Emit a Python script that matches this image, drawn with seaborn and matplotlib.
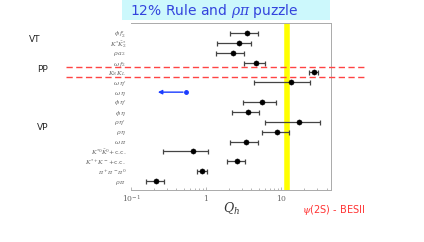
import numpy as np
import pandas as pd
import matplotlib
matplotlib.use("Agg")
import matplotlib.pyplot as plt
import seaborn as sns
from matplotlib.lines import Line2D
from matplotlib.patches import Rectangle

sns.set_theme(style="white")
plt.rcParams['font.family'] = ['DejaVu Sans']
plt.rcParams['mathtext.fontset'] = 'dejavuserif'

# channel labels, top to bottom
channels = [r"$\phi\, f_2^{\prime}$", r"$K^{*}\bar{K}_2^{*}$", r"$\rho\, a_2$", r"$\omega\, f_2$",
            r"$K_S\, K_L$", r"$\omega\, \eta^{\prime}$", r"$\omega\, \eta$", r"$\phi\, \eta^{\prime}$",
            r"$\phi\, \eta$", r"$\rho\, \eta^{\prime}$", r"$\rho\, \eta$", r"$\omega\, \pi$",
            r"$K^{*0}\bar{K}^0$+c.c.", r"$K^{*+}K^-$+c.c.", r"$\pi^+\pi^-\pi^0$", r"$\rho\, \pi$"]
# Q_h central values and error bar ends (nan = upper limit only)
q_val = [3.49, 2.70, 2.27, 4.59, 27.0, 13.5, np.nan, 5.47, 3.60, 17.0, 8.77, 3.34, 0.678, 2.56, 0.875, 0.216]
q_lo = [2.05, 1.40, 1.37, 3.18, 23.4, 4.28, np.nan, 3.08, 2.22, 6.12, 5.52, 2.09, 0.264, 1.92, 0.752, 0.157]
q_hi = [4.89, 3.94, 3.18, 6.12, 30.8, 24.4, np.nan, 8.49, 5.05, 32.4, 12.5, 4.83, 1.07, 3.24, 1.04, 0.278]
# omega eta upper limit arrow
ul_from = 0.536
ul_to = 0.209
rule_12 = 12.0

df = pd.DataFrame({"row": np.arange(len(channels)), "Q": q_val, "lo": q_lo, "hi": q_hi})
meas = df.dropna()

fig = plt.figure(figsize=(4.24, 2.42), dpi=100)
ax = fig.add_axes([0.309, 0.215, 0.472, 0.69])

ax.axvline(rule_12, color="#ffff00", lw=4, zorder=1)
ax.errorbar(meas["Q"], meas["row"], xerr=[meas["Q"] - meas["lo"], meas["hi"] - meas["Q"]],
            fmt="none", ecolor="#444444", elinewidth=0.9, capsize=1.8, capthick=0.9, zorder=2)
sns.scatterplot(data=meas, x="Q", y="row", color="black", s=14, edgecolor="black", ax=ax, zorder=3)

ul_row = channels.index(r"$\omega\, \eta$")
ax.annotate("", xy=(ul_to, ul_row), xytext=(ul_from, ul_row),
            arrowprops=dict(arrowstyle="-|>", color="#1a3cff", lw=1.0, mutation_scale=6))
ax.plot([ul_from], [ul_row], "o", color="#1a3cff", ms=2.5)

ax.set_xscale("log")
ax.set_xlim(0.1, 46)
ax.set_ylim(15.9, -1.0)
ax.set_yticks(range(len(channels)))
ax.set_yticklabels(channels, fontsize=4.5, color="#666666")
ax.set_xticks([0.1, 1, 10])
ax.set_xticklabels([r"$10^{-1}$", r"$1$", r"$10$"], fontsize=5.5, color="#666666", style="italic")
ax.tick_params(axis="y", length=2, width=0.5, color="#aaaaaa", pad=1.5)
ax.tick_params(axis="x", which="both", direction="in", length=2, width=0.5, color="#999999", pad=2, bottom=True)
ax.tick_params(axis="x", which="minor", length=1.2)
ax.set_xlabel(r"$Q_h$", fontsize=9, color="#333333", labelpad=-2)
ax.set_ylabel("")
for s in ax.spines.values():
    s.set_color("#aaaaaa")
    s.set_linewidth(0.7)
ax.spines["left"].set_visible(False)

# PP separator lines across the figure
for yy in (3.5, 4.5):
    yf = fig.transFigure.inverted().transform(ax.transData.transform((1, yy)))[1]
    fig.add_artist(Line2D([66 / 424, 364 / 424], [yf, yf], color="#ff4444", lw=1.0, ls=(0, (4.5, 2.5))))

fig.text(35 / 424, 1 - 40 / 242, "VT", fontsize=6.5, ha="center", va="center")
fig.text(43 / 424, 1 - 70 / 242, "PP", fontsize=6.5, ha="center", va="center")
fig.text(43 / 424, 1 - 127 / 242, "VP", fontsize=6.5, ha="center", va="center")

# title banner
fig.add_artist(Rectangle((122 / 424, 1 - 20 / 242), 208 / 424, 20 / 242,
                         transform=fig.transFigure, facecolor="#ccf8fc", edgecolor="none", zorder=0))
fig.text(214 / 424, 1 - 11 / 242, r"12% Rule and $\rho\pi$ puzzle", fontsize=10, color="#3344dd",
         ha="center", va="center")
fig.text(334 / 424, 1 - 210 / 242, r"$\psi$(2S) - BESII", fontsize=7, color="#ff3333",
         ha="center", va="center")

fig.savefig("out.png", dpi=100, facecolor="white")
